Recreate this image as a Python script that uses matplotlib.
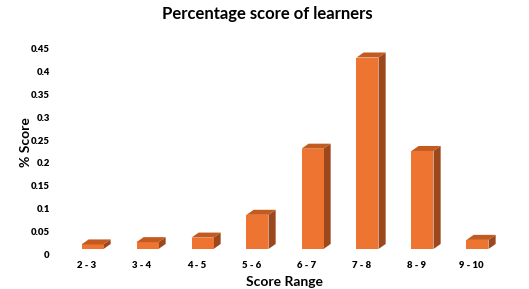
import matplotlib
matplotlib.use("Agg")
import matplotlib.pyplot as plt
from matplotlib.patches import Polygon
from matplotlib.transforms import ScaledTranslation
import numpy as np

plt.rcParams['font.family'] = ['Lato', 'DejaVu Sans']

# data
ranges = ['2 - 3', '3 - 4', '4 - 5', '5 - 6', '6 - 7', '7 - 8', '8 - 9', '9 - 10']
scores = [0.01, 0.015, 0.025, 0.075, 0.22, 0.42, 0.215, 0.02]
yticks = [0, 0.05, 0.1, 0.15, 0.2, 0.25, 0.3, 0.35, 0.4, 0.45]

front_col = '#ED7431'
top_col = '#C35A1F'
side_col = '#9C471C'

fig = plt.figure(figsize=(5.29, 2.89), dpi=100)
ax = fig.add_axes([65 / 529, 40 / 289, 440 / 529, 0.7415])

x = np.arange(len(ranges))
w = 0.4
dx, dy = 0.13, 0.011   # fake 3d depth

ax.bar(x, scores, width=w, color=front_col, edgecolor='none', zorder=3)
for xi, h in zip(x, scores):
    x0, x1 = xi - w / 2, xi + w / 2
    top = Polygon([(x0, h), (x0 + dx, h + dy), (x1 + dx, h + dy), (x1, h)],
                  closed=True, facecolor=top_col, edgecolor='none', zorder=3)
    side = Polygon([(x1, 0), (x1 + dx, dy), (x1 + dx, h + dy), (x1, h)],
                   closed=True, facecolor=side_col, edgecolor='none', zorder=2)
    ax.add_patch(top)
    ax.add_patch(side)

ax.set_xlim(-0.5, len(ranges) - 0.5)
ax.set_ylim(0, 0.47)
ax.set_xticks(x)
ax.set_xticklabels(ranges, fontsize=6.8, fontweight='heavy')
ax.set_yticks(yticks)
ax.set_yticklabels([f'{t:g}' for t in yticks], fontsize=6.8, fontweight='heavy')
ax.tick_params(length=0, pad=11, axis='y')
ax.tick_params(length=0, pad=9, axis='x')
for lab in ax.get_yticklabels():
    lab.set_transform(lab.get_transform() + ScaledTranslation(0, -5 / 100, fig.dpi_scale_trans))
for lab in ax.get_xticklabels():
    lab.set_transform(lab.get_transform() + ScaledTranslation(-6 / 100, 0, fig.dpi_scale_trans))
for s in ax.spines.values():
    s.set_visible(False)

ax.set_xlabel('Score Range', fontsize=10, fontweight='bold', labelpad=4)
ax.set_ylabel('% Score', fontsize=10, fontweight='bold', labelpad=-1)
fig.text(0.506, 1 - 14 / 289, 'Percentage score of learners', fontsize=12,
         fontweight='bold', ha='center', va='center')

fig.savefig('out.png', dpi=100)
